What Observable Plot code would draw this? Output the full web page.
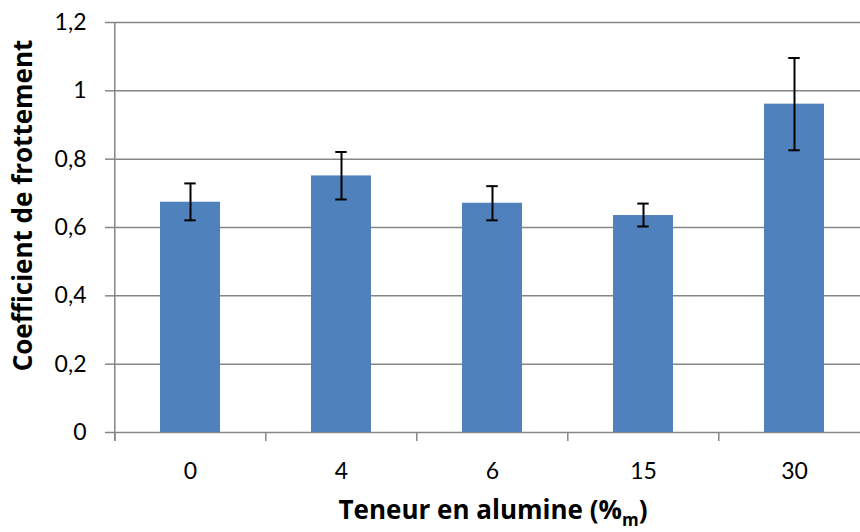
<!DOCTYPE html>
<html>
<head>
<meta charset="utf-8">
<script src="https://cdn.jsdelivr.net/npm/d3@7"></script>
<script src="https://cdn.jsdelivr.net/npm/@observablehq/plot@0.6"></script>
<style>
  html, body { margin: 0; padding: 0; background: #fff; }
  #chart { width: 860px; height: 532px; }
</style>
</head>
<body>
<div id="chart"></div>
<script>
const categories = ["0", "4", "6", "15", "30"];
const values = [0.674, 0.751, 0.671, 0.635, 0.961];
const errLow = [0.621, 0.682, 0.621, 0.603, 0.826];
const errHigh = [0.729, 0.821, 0.721, 0.670, 1.096];
const yTicks = [0, 0.2, 0.4, 0.6, 0.8, 1, 1.2];
const xTitle = "Teneur en alumine (%m)";
const yTitle = "Coefficient de frottement";

const data = categories.map((c, i) => ({cat: c, v: values[i], lo: errLow[i], hi: errHigh[i]}));

const W = 860, H = 532;
const mL = 114, mR = -11, mT = 22, mB = 100;
const step = (W - mR - mL) / categories.length;
const barW = step * 0.4;
const capW = 12;
const gray = "#868686";
const titleFont = "'Open Sans', Lato, sans-serif";

const chart = Plot.plot({
  width: W,
  height: H,
  marginLeft: mL,
  marginRight: mR,
  marginTop: mT,
  marginBottom: mB,
  style: {fontFamily: "Lato, 'Open Sans', sans-serif", fontSize: "23px", color: "#000", background: "#fff", overflow: "visible"},
  x: {domain: categories, paddingInner: 0.6, paddingOuter: 0.3, axis: null},
  y: {domain: [0, 1.2], axis: null},
  marks: [
    Plot.gridY(yTicks, {stroke: gray, strokeOpacity: 1, strokeWidth: 1.5}),
    Plot.axisY(yTicks, {tickSize: 9, tickPadding: 19, stroke: gray, strokeWidth: 1.5, fill: "#000", fontSize: 23,
      tickFormat: d => String(d).replace(".", ","), label: null}),
    // left axis line (first boundary) extending below zero
    Plot.ruleX([categories[0]], {x: d => d, dx: -step / 2, y1: 1.2, y2: 0, insetBottom: -9, stroke: gray, strokeWidth: 1.5}),
    // x tick marks at band boundaries
    Plot.ruleX(categories, {x: d => d, dx: -step / 2, y1: 0, y2: 0, insetBottom: -9, stroke: gray, strokeWidth: 1.5}),
    Plot.barY(data, {x: "cat", y: "v", fill: "#4F81BD"}),
    Plot.ruleX(data, {x: "cat", y1: "lo", y2: "hi", stroke: "#000", strokeWidth: 2}),
    Plot.tickY(data, {x: "cat", y: "hi", stroke: "#000", strokeWidth: 2, insetLeft: (barW - capW) / 2, insetRight: (barW - capW) / 2}),
    Plot.tickY(data, {x: "cat", y: "lo", stroke: "#000", strokeWidth: 2, insetLeft: (barW - capW) / 2, insetRight: (barW - capW) / 2}),
    Plot.axisX(categories, {tickSize: 0, tickPadding: 30, fontSize: 23, fill: "#000", label: null}),
    Plot.text([xTitle], {frameAnchor: "bottom", dy: 86, fontWeight: "bold", fontSize: 26, fontFamily: titleFont, fill: "#000"}),
    Plot.text([yTitle], {frameAnchor: "left", textAnchor: "middle", rotate: -90, dx: -91, dy: -22, fontWeight: "bold", fontSize: 26, fontFamily: titleFont, fill: "#000"})
  ]
});

// subscript "m" in the x title
chart.querySelectorAll("text").forEach(t => {
  if (t.textContent === xTitle) {
    const NS = "http://www.w3.org/2000/svg";
    t.textContent = "";
    const a = document.createElementNS(NS, "tspan");
    a.textContent = "Teneur en alumine (%";
    const b = document.createElementNS(NS, "tspan");
    b.textContent = "m";
    b.setAttribute("dy", "7");
    b.setAttribute("font-size", "17");
    const c = document.createElementNS(NS, "tspan");
    c.textContent = ")";
    c.setAttribute("dy", "-7");
    t.append(a, b, c);
  }
});

document.getElementById("chart").appendChild(chart);
</script>
</body>
</html>
